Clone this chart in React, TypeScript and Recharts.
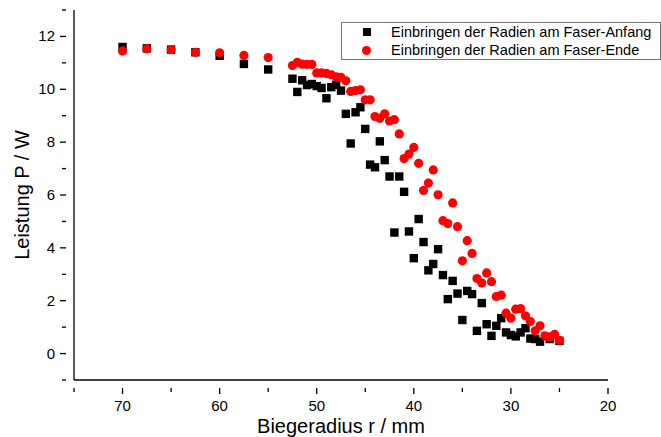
import { Legend, Scatter, ScatterChart, XAxis, YAxis } from "recharts";

// Biegeradius (mm) und Leistung (W).
const radiusAnfang = [
  70, 67.5, 65, 62.5, 60, 57.5, 55, 52.5, 52, 51.5, 51, 50.5, 50, 49.5, 49, 48.5, 48, 47.5,
  47, 46.5, 46, 45.5, 45, 44.5, 44, 43.5, 43, 42.5, 42, 41.5, 41, 40.5, 40, 39.5, 39, 38.5,
  38, 37.5, 37, 36.5, 36, 35.5, 35, 34.5, 34, 33.5, 33, 32.5, 32, 31.5, 31, 30.5, 30, 29.5,
  29, 28.5, 28, 27.5, 27, 26, 25,
];
const leistungAnfang = [
  11.6, 11.55, 11.5, 11.4, 11.27, 10.96, 10.75, 10.4, 9.9, 10.34, 10.16, 10.2, 10.12, 10.05, 9.66, 10.08, 10.17, 9.95,
  9.07, 7.95, 9.13, 9.32, 8.5, 7.15, 7.05, 8.03, 7.32, 6.7, 4.58, 6.7, 6.12, 4.62, 3.61, 5.09, 4.22, 3.15,
  3.39, 3.95, 2.97, 2.06, 2.75, 2.27, 1.27, 2.37, 2.25, 0.86, 1.91, 1.11, 0.67, 1.05, 1.34, 0.8, 0.7, 0.65,
  0.8, 0.96, 0.57, 0.55, 0.45, 0.55, 0.48,
];

const radiusEnde = [
  70, 67.5, 65, 62.5, 60, 57.5, 55, 52.5, 52, 51.5, 51, 50.5, 50, 49.5, 49, 48.5, 48, 47.5,
  47, 46.5, 46, 45.5, 45, 44.5, 44, 43.5, 43, 42.5, 42, 41.5, 41, 40.5, 40, 39.5, 39, 38.5,
  38, 37.5, 37, 36.5, 36, 35.5, 35, 34.5, 34, 33.5, 33, 32.5, 32, 31.5, 31, 30.5, 30, 29.5,
  29, 28.5, 28, 27.5, 27, 26.5, 26, 25.5, 25,
];
const leistungEnde = [
  11.45, 11.53, 11.5, 11.4, 11.38, 11.28, 11.2, 10.9, 11.02, 10.95, 10.94, 10.94, 10.62, 10.62, 10.6, 10.55, 10.47, 10.45,
  10.32, 9.92, 9.95, 9.98, 9.6, 9.6, 8.97, 8.9, 9.07, 8.8, 8.85, 8.31, 7.38, 7.55, 7.8, 7.2, 6.17, 6.45,
  6.95, 6.01, 5.03, 4.92, 5.7, 4.8, 3.51, 4.27, 3.79, 2.84, 2.67, 3.05, 2.72, 2.16, 2.21, 1.53, 1.34, 1.68,
  1.7, 1.43, 1.21, 0.86, 1.05, 0.67, 0.63, 0.73, 0.5,
];

const xTicks = [75, 70, 65, 60, 55, 50, 45, 40, 35, 30, 25, 20];
const yTicks = [-1, 0, 1, 2, 3, 4, 5, 6, 7, 8, 9, 10, 11, 12, 13];

const labelAnfang = "Einbringen der Radien am Faser-Anfang";
const labelEnde = "Einbringen der Radien am Faser-Ende";

const anfang = radiusAnfang.map((r, i) => ({ r, p: leistungAnfang[i] }));
const ende = radiusEnde.map((r, i) => ({ r, p: leistungEnde[i] }));

const FONT = "'Liberation Sans', Arial, sans-serif";

// Haupt-/Nebenstriche: Beschriftung nur an jedem zweiten Strich.
function XTick(props: any) {
  const { x, y, payload } = props;
  const major = payload.value % 10 === 0;
  return (
    <g>
      <line x1={x} x2={x} y1={y} y2={y + (major ? 6 : 4)} stroke="#000" strokeWidth={1.3} />
      {major && (
        <text x={x} y={y + 23} textAnchor="middle" fontSize={15} fontFamily={FONT} fill="#000">
          {payload.value}
        </text>
      )}
    </g>
  );
}

function YTick(props: any) {
  const { x, y, payload } = props;
  const major = payload.value % 2 === 0;
  return (
    <g>
      <line x1={x} x2={x - (major ? 6 : 4)} y1={y} y2={y} stroke="#000" strokeWidth={1.3} />
      {major && (
        <text x={x - 11} y={y + 5} textAnchor="end" fontSize={15} fontFamily={FONT} fill="#000">
          {payload.value}
        </text>
      )}
    </g>
  );
}

const Square = (props: any) => (
  <rect x={props.cx - 4.2} y={props.cy - 4.2} width={8.4} height={8.4} fill="#000" />
);
const Dot = (props: any) => <circle cx={props.cx} cy={props.cy} r={4.6} fill="#ff0000" />;

function LegendBox() {
  return (
    <div
      style={{
        width: 318,
        height: 36,
        border: "1px solid #777",
        background: "#fff",
        fontFamily: FONT,
        fontSize: 14.5,
        lineHeight: "18px",
        color: "#000",
        whiteSpace: "nowrap",
      }}
    >
      <div style={{ display: "flex", alignItems: "center" }}>
        <span style={{ display: "inline-block", width: 8, height: 8, background: "#000", marginLeft: 21, marginRight: 20 }} />
        {labelAnfang}
      </div>
      <div style={{ display: "flex", alignItems: "center" }}>
        <span style={{ display: "inline-block", width: 9, height: 9, borderRadius: 5, background: "#ff0000", marginLeft: 20, marginRight: 20 }} />
        {labelEnde}
      </div>
    </div>
  );
}

export default function App() {
  return (
    <div style={{ position: "absolute", left: 0, top: 0, background: "#fff" }}>
      <ScatterChart width={661} height={437} margin={{ top: 10, right: 53, bottom: 0, left: 0 }}>
        <XAxis
          type="number"
          dataKey="r"
          domain={[20, 75]}
          reversed
          ticks={xTicks}
          interval={0}
          tick={<XTick />}
          tickLine={false}
          axisLine={{ stroke: "#000", strokeWidth: 1.3 }}
          height={57}
          label={{ value: "Biegeradius r / mm", position: "insideBottom", offset: 4, fontSize: 20, fontFamily: FONT, fill: "#000" }}
        />
        <YAxis
          type="number"
          dataKey="p"
          domain={[-1, 13]}
          ticks={yTicks}
          interval={0}
          tick={<YTick />}
          tickLine={false}
          axisLine={{ stroke: "#000", strokeWidth: 1.3 }}
          width={74}
          label={{ value: "Leistung P / W", angle: -90, position: "insideLeft", offset: 22, fontSize: 20, fontFamily: FONT, fill: "#000", style: { textAnchor: "middle" } }}
        />
        {/* horizontal + middle: Legende nimmt dem Plotbereich keinen Platz weg */}
        <Legend
          layout="horizontal"
          verticalAlign="middle"
          align="center"
          content={<LegendBox />}
          wrapperStyle={{ position: "absolute", top: 22, left: 341, width: 320, height: 38 }}
        />
        <Scatter name={labelAnfang} data={anfang} shape={Square} isAnimationActive={false} />
        <Scatter name={labelEnde} data={ende} shape={Dot} isAnimationActive={false} />
      </ScatterChart>
    </div>
  );
}
